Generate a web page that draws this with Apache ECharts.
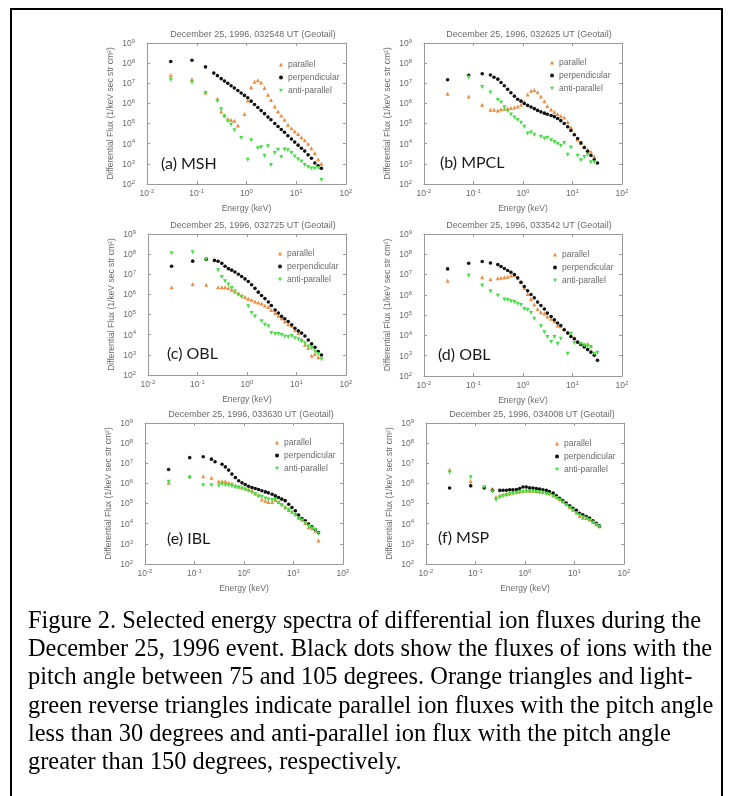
<!DOCTYPE html>
<html>
<head>
<meta charset="utf-8">
<script src="https://cdn.jsdelivr.net/npm/echarts@6/dist/echarts.min.js"></script>
<style>
html,body{margin:0;padding:0;background:#fff;}
#chart{width:731px;height:796px;}
</style>
</head>
<body>
<div id="chart"></div>
<script>
// ---------- data ----------
const energy = [0.03, 0.08, 0.15, 0.22, 0.26, 0.31, 0.36, 0.42, 0.49, 0.57, 0.67, 0.78, 0.91, 1.06, 1.24, 1.45, 1.69, 1.97, 2.3, 2.7, 3.1, 3.7, 4.3, 5.0, 5.8, 6.8, 8.0, 9.3, 10.9, 12.7, 14.8, 17.3, 20.2, 23.6, 27.5, 32];

const seriesNames = ['parallel', 'perpendicular', 'anti-parallel'];

// (a) MSH
const aPar  = [2.5e7, 1.6e7, 3.5e6, null, 1.7e6, 4.0e5, 2.5e5, 1.7e5, 1.5e5, 1.4e5, 8.0e4, null, 3.0e5, 1.4e6, 6.3e6, 1.2e7, 1.4e7, 1.1e7, 5.9e6, 2.7e6, 1.5e6, 7.0e5, 4.0e5, 2.5e5, 1.55e5, 8.7e4, 5.8e4, 4.1e4, 3.0e4, 2.1e4, 1.5e4, 1.0e4, 6.0e3, 3.5e3, 1.7e3, 1.0e3];
const aPerp = [1.2e8, 1.4e8, 6.5e7, 3.2e7, 2.4e7, 1.7e7, 1.3e7, 1.0e7, 7.6e6, 5.8e6, 4.4e6, 3.3e6, 2.5e6, 1.9e6, 1.3e6, 8.9e5, 6.3e5, 4.4e5, 3.1e5, 2.1e5, 1.55e5, 1.0e5, 7.2e4, 5.1e4, 3.7e4, 2.5e4, 1.7e4, 1.2e4, 8.5e3, 6.0e3, 4.3e3, 2.8e3, 1.9e3, 1.1e3, 8.0e2, 6.0e2];
const aAnti = [1.5e7, 1.1e7, 3.3e6, null, 1.3e6, 5.2e5, 2.3e5, 1.3e5, 8.7e4, 4.6e4, null, 1.9e4, null, 1.6e3, 1.5e4, null, 6.0e3, 6.6e3, 2.5e3, 7.4e3, 8.7e2, 3.5e3, 5.0e3, 2.2e3, 5.2e3, 4.7e3, 3.5e3, 2.3e3, 1.7e3, 1.3e3, 8.9e2, 7.0e2, 5.9e2, 5.9e2, 6.3e2, 1.6e2];

// (b) MPCL
const bPar  = [3.0e6, 2.2e6, 8.5e5, 4.8e5, 4.8e5, 4.4e5, 5.2e5, 5.5e5, 5.8e5, 6.0e5, 6.2e5, 7.0e5, 8.5e5, 1.2e6, 2.8e6, 4.2e6, 4.6e6, 3.6e6, 2.2e6, 1.3e6, 7.5e5, 5.0e5, 3.8e5, 3.0e5, 2.4e5, 2.0e5, 1.2e5, 6.5e4, 3.0e4, 1.6e4, 1.1e4, 7.0e3, 5.0e3, 4.0e3, 2.4e3, null];
const bPerp = [1.5e7, 2.5e7, 3.0e7, 2.6e7, 2.0e7, 1.6e7, 1.1e7, 7.5e6, 5.0e6, 3.4e6, 2.3e6, 1.6e6, 1.3e6, 1.0e6, 8.0e5, 6.6e5, 5.5e5, 4.5e5, 3.8e5, 3.3e5, 2.9e5, 2.5e5, 2.2e5, 1.8e5, 1.4e5, 1.0e5, 7.0e4, 4.5e4, 2.8e4, 1.8e4, 1.1e4, 6.5e3, 4.2e3, 2.6e3, 1.6e3, 1.1e3];
const bAnti = [null, 2.0e7, 6.5e6, 3.5e6, null, 1.5e6, 1.1e6, 6.5e5, 4.2e5, 2.8e5, 2.0e5, 1.5e5, 1.1e5, 7.0e4, 3.2e4, 3.6e4, 2.8e4, null, 2.2e4, 1.8e4, 2.0e4, 1.5e4, 1.2e4, 1.0e4, 8.0e3, 1.1e4, 2.8e3, 6.5e3, null, 2.5e3, 1.5e3, 2.2e3, 2.8e3, 1.2e3, 1.2e3, null];

// (c) OBL
const cPar  = [2.3e6, 3.3e6, 3.0e6, null, 2.3e6, 2.3e6, 2.3e6, 2.1e6, 1.7e6, 1.4e6, 1.1e6, 9.0e5, 7.4e5, 6.1e5, 5.5e5, 4.5e5, 4.0e5, 3.5e5, 2.8e5, 2.4e5, 1.7e5, 1.2e5, 8.7e4, 6.6e4, 4.5e4, 3.3e4, 2.8e4, 1.7e4, 1.2e4, 6.0e3, 3.2e3, 2.2e3, 9.0e2, 1.1e3, 7.5e2, null];
const cPerp = [2.5e7, 4.5e7, 5.5e7, 4.9e7, 4.4e7, 3.5e7, 2.5e7, 1.9e7, 1.6e7, 1.3e7, 1.0e7, 7.7e6, 5.9e6, 4.4e6, 3.0e6, 2.0e6, 1.3e6, 8.9e5, 6.2e5, 4.2e5, 2.8e5, 1.7e5, 1.2e5, 8.1e4, 6.2e4, 4.5e4, 3.1e4, 2.1e4, 1.55e4, 1.2e4, 8.7e3, 5.5e3, 3.5e3, 2.4e3, 1.45e3, 9.8e2];
const cAnti = [1.1e8, 1.25e8, 5.5e7, null, 1.6e7, 7.4e6, 4.5e6, 3.1e6, 2.1e6, 1.4e6, 9.7e5, 7.4e5, null, 2.6e5, 1.2e5, 8.0e4, null, 4.6e4, 3.1e4, 2.6e4, 1.2e4, 1.1e4, 1.1e4, 9.8e3, 8.1e3, 7.6e3, 8.7e3, 6.6e3, 6.0e3, 4.6e3, 3.8e3, 2.6e3, 2.1e3, 1.45e3, 1.1e3, 6.0e2];

// (d) OBL
const dPar  = [5.0e6, null, 7.4e6, 5.9e6, null, 6.6e6, 6.9e6, 7.4e6, 7.9e6, 9.0e6, 9.4e6, 6.9e6, 4.2e6, 2.2e6, 1.1e6, 6.3e5, 3.3e5, 2.0e5, 1.4e5, 1.2e5, 8.6e4, 6.6e4, 5.0e4, 3.1e4, 2.8e4, 2.1e4, 1.45e4, 1.0e4, 7.4e3, 4.7e3, 3.9e3, 3.6e3, 3.9e3, 2.9e3, null, null];
const dPerp = [1.9e7, 3.6e7, 4.4e7, 3.7e7, null, 3.1e7, 2.5e7, 2.0e7, 1.6e7, 1.3e7, 1.0e7, 6.9e6, 4.2e6, 2.6e6, 1.6e6, 1.05e6, 7.1e5, 4.4e5, 3.0e5, 2.0e5, 1.26e5, 8.6e4, 5.9e4, 4.1e4, 3.1e4, 1.9e4, 1.3e4, 8.9e3, 6.9e3, 4.7e3, 3.6e3, 2.7e3, 2.0e3, 1.5e3, 1.05e3, 5.9e2];
const dAnti = [null, 9.0e6, 2.9e6, 1.5e6, null, 9.3e5, null, 5.9e5, 5.6e5, 4.9e5, 4.4e5, 3.6e5, 3.2e5, 2.0e5, 1.8e5, 1.26e5, 6.6e4, null, 2.8e4, 1.45e4, 8.3e3, 4.7e3, 8.3e3, 3.9e3, 6.9e3, null, 1.26e3, 1.2e4, 4.2e3, null, 3.9e3, 3.2e3, 2.9e3, 2.7e3, 1.26e3, 1.4e3];

// (e) IBL
const ePar  = [1.07e6, 2.3e6, 2.3e6, 1.9e6, null, 1.3e6, 1.3e6, 1.3e6, 1.07e6, 1.0e6, 8.0e5, 6.8e5, 6.3e5, 5.6e5, 5.0e5, 4.6e5, 3.2e5, 2.6e5, 1.6e5, 1.4e5, 1.2e5, 1.2e5, 1.5e5, 1.2e5, 9.3e4, 6.9e4, 4.8e4, 3.9e4, 3.0e4, 2.0e4, 1.6e4, 1.1e4, 6.6e3, 5.9e3, 4.5e3, 1.45e3];
const ePerp = [4.9e6, 1.9e7, 2.1e7, 1.6e7, 1.2e7, null, 9.0e6, 6.6e6, 4.6e6, 2.9e6, 1.95e6, 1.35e6, 1.07e6, 8.9e5, 7.3e5, 6.3e5, 5.6e5, 5.0e5, 4.3e5, 3.8e5, 3.4e5, 2.9e5, 2.4e5, 2.0e5, 1.66e5, 1.4e5, 9.3e4, 6.4e4, 4.4e4, 2.7e4, 1.8e4, 1.4e4, 9.6e3, 7.1e3, 5.2e3, 3.6e3];
const eAnti = [1.2e6, 1.9e6, 8.1e5, 8.1e5, null, 8.0e5, 9.1e5, 8.1e5, 8.1e5, 7.2e5, 6.3e5, 6.3e5, 5.6e5, 5.0e5, 4.3e5, 3.4e5, 2.9e5, 2.3e5, 2.2e5, 1.8e5, 1.6e5, 1.5e5, 1.5e5, 1.1e5, 8.3e4, 5.7e4, 4.8e4, 3.5e4, 2.7e4, 1.8e4, 1.5e4, 1.1e4, 7.6e3, 5.9e3, 4.9e3, 3.3e3];

// (f) MSP
const fPar  = [4.8e6, 1.3e6, 7.0e5, 5.5e5, 2.2e5, 2.5e5, 2.8e5, 3.0e5, 3.2e5, 3.5e5, 3.8e5, 4.0e5, 4.2e5, 4.4e5, 4.3e5, 4.3e5, 4.2e5, 4.0e5, 3.8e5, 3.6e5, 3.3e5, 2.6e5, 2.2e5, 1.7e5, 1.3e5, 9.5e4, 7.0e4, 5.0e4, 3.6e4, 2.4e4, 2.0e4, 1.9e4, 1.6e4, 1.2e4, 9.5e3, 7.5e3];
const fPerp = [5.9e5, 7.6e5, 5.9e5, 4.5e5, null, 4.5e5, 4.6e5, 4.6e5, 4.8e5, 4.8e5, 4.9e5, 5.6e5, 6.6e5, 6.6e5, 6.0e5, 5.9e5, 5.6e5, 5.2e5, 4.8e5, 4.5e5, 4.0e5, 3.3e5, 2.4e5, 1.85e5, 1.4e5, 1.05e5, 7.8e4, 5.9e4, 4.6e4, 3.3e4, 2.8e4, 2.3e4, 1.9e4, 1.4e4, 1.05e4, 7.8e3];
const fAnti = [3.5e6, 2.0e6, 6.5e5, 4.0e5, 1.5e5, 2.0e5, 2.3e5, 2.6e5, 2.9e5, 3.1e5, 3.4e5, 3.6e5, 3.8e5, 4.0e5, 4.0e5, 3.9e5, 3.8e5, 3.6e5, 3.4e5, 3.1e5, 2.8e5, 2.3e5, 1.9e5, 1.5e5, 1.15e5, 8.5e4, 6.2e4, 4.6e4, 3.3e4, 2.6e4, 2.1e4, 1.8e4, 1.5e4, 1.15e4, 9.0e3, 7.0e3];

const panelTitles = [
  'December 25, 1996, 032548 UT (Geotail)',
  'December 25, 1996, 032625 UT (Geotail)',
  'December 25, 1996, 032725 UT (Geotail)',
  'December 25, 1996, 033542 UT (Geotail)',
  'December 25, 1996, 033630 UT (Geotail)',
  'December 25, 1996, 034008 UT (Geotail)'
];
const panelLabels = ['(a) MSH', '(b) MPCL', '(c) OBL', '(d) OBL', '(e) IBL', '(f) MSP'];
const xAxisName = 'Energy (keV)';
const yAxisName = 'Differential Flux (1/keV sec str cm\u00B2)';
const xTickExps = [-2, -1, 0, 1, 2];
const yTickExps = [2, 3, 4, 5, 6, 7, 8, 9];
const captionLines = [
  'Figure 2. Selected energy spectra of differential ion fluxes during the',
  'December 25, 1996 event. Black dots show the fluxes of ions with the',
  'pitch angle between 75 and 105 degrees. Orange triangles and light-',
  'green reverse triangles indicate parallel ion fluxes with the pitch angle',
  'less than 30 degrees and anti-parallel ion flux with the pitch angle',
  'greater than 150 degrees, respectively.'
];

const panelData = [
  [aPar, aPerp, aAnti],
  [bPar, bPerp, bAnti],
  [cPar, cPerp, cAnti],
  [dPar, dPerp, dAnti],
  [ePar, ePerp, eAnti],
  [fPar, fPerp, fAnti]
];

// ---------- layout & style ----------
const layout = [
  {grid: [147, 43, 199, 141], title: [253, 35], label: [161, 164], legend: [279, 60]},
  {grid: [424, 43, 198, 141], title: [529, 35], label: [440, 163], legend: [550, 58]},
  {grid: [148, 234, 198, 141], title: [253, 226], label: [167, 354], legend: [278, 249]},
  {grid: [424, 234, 198, 142], title: [529, 226], label: [438, 355], legend: [553, 250]},
  {grid: [145, 423, 198, 141], title: [251, 415], label: [167, 539], legend: [275, 438]},
  {grid: [426, 423, 198, 141], title: [532, 415], label: [438, 538], legend: [555, 439]}
];
const SANS = '"Liberation Sans", Arial, sans-serif';
const axisColor = '#9a9a9a';
const textColor = '#6a6a6a';
const colors = ['#f08a3c', '#111111', '#40e040'];
const downTri = 'path://M0,0 L10,0 L5,9 Z';
const symbols = ['triangle', 'circle', downTri];
const symbolSizes = [4, 3.6, 4];

const supRich = {
  b: {fontSize: 8.5, color: textColor, fontFamily: SANS, lineHeight: 9, verticalAlign: 'bottom'},
  s: {fontSize: 6, color: textColor, fontFamily: SANS, verticalAlign: 'top', padding: [0, 0, 4, 0]}
};
function expFmt(allowed) {
  return function (v) {
    const e = Math.round(Math.log10(v));
    if (allowed.indexOf(e) < 0) return '';
    return '{b|10}{s|' + e + '}';
  };
}
function points(vals) {
  const out = [];
  vals.forEach(function (v, k) { if (v != null) out.push([energy[k], v]); });
  return out;
}

const grids = [], xAxes = [], yAxes = [], series = [], legends = [], graphics = [];
layout.forEach(function (L, i) {
  grids.push({left: L.grid[0], top: L.grid[1], width: L.grid[2], height: L.grid[3], show: false});
  const common = {
    type: 'log', logBase: 10, gridIndex: i,
    axisLine: {show: true, onZero: false, lineStyle: {color: axisColor, width: 1}},
    axisTick: {show: true, inside: true, length: 3, lineStyle: {color: axisColor}},
    minorTick: {show: false}, splitLine: {show: false}, minorSplitLine: {show: false}
  };
  xAxes.push(Object.assign({}, common, {
    min: 0.01, max: 100, position: 'bottom',
    axisLabel: {show: true, interval: 0, margin: 4, formatter: expFmt(xTickExps), rich: supRich, color: textColor},
    name: xAxisName, nameLocation: 'middle', nameGap: 20,
    nameTextStyle: {fontSize: 8.5, color: textColor, fontFamily: SANS}
  }));
  xAxes.push(Object.assign({}, common, {
    min: 0.01, max: 100, position: 'top', axisLabel: {show: false}
  }));
  yAxes.push(Object.assign({}, common, {
    min: 100, max: 1e9, position: 'left',
    axisLabel: {show: true, interval: 0, margin: 12, formatter: expFmt(yTickExps), rich: supRich, color: textColor},
    name: yAxisName, nameLocation: 'middle', nameGap: 32,
    nameTextStyle: {fontSize: 8.5, color: textColor, fontFamily: SANS}
  }));
  yAxes.push(Object.assign({}, common, {
    min: 100, max: 1e9, position: 'right', axisLabel: {show: false}
  }));
  panelData[i].forEach(function (vals, s) {
    series.push({
      type: 'scatter', name: seriesNames[s],
      xAxisIndex: 2 * i, yAxisIndex: 2 * i,
      data: points(vals),
      symbol: symbols[s], symbolSize: symbolSizes[s],
      itemStyle: {color: colors[s], opacity: 1},
      emphasis: {disabled: true}
    });
  });
  legends.push({
    orient: 'vertical', left: L.legend[0], top: L.legend[1], padding: 0,
    itemWidth: 4, itemHeight: 4, itemGap: 4,
    selectedMode: false,
    data: [
      {name: seriesNames[0], icon: 'triangle'},
      {name: seriesNames[1], icon: 'circle'},
      {name: seriesNames[2], icon: downTri}
    ],
    textStyle: {fontSize: 8.5, color: textColor, fontFamily: SANS}
  });
  graphics.push({
    type: 'text', silent: true,
    style: {x: L.title[0], y: L.title[1], text: panelTitles[i], align: 'center', verticalAlign: 'middle',
      fontSize: 9, fontFamily: SANS, fill: textColor}
  });
  graphics.push({
    type: 'text', silent: true,
    style: {x: L.label[0], y: L.label[1], text: panelLabels[i], align: 'left', verticalAlign: 'middle',
      fontSize: 16, fontFamily: 'Lato, "Open Sans", sans-serif', fill: '#1a1a1a'}
  });
});

const capTop = 621.5, capStep = 28.2;
captionLines.forEach(function (line, k) {
  graphics.push({
    type: 'text', silent: true,
    style: {x: 28, y: capTop + k * capStep, text: line, align: 'left', verticalAlign: 'middle',
      fontSize: 24.4, fontFamily: '"Liberation Serif", "Times New Roman", serif', fill: '#000'}
  });
});
graphics.push({
  type: 'rect', silent: true,
  shape: {x: 11, y: 9, width: 711, height: 800},
  style: {fill: null, stroke: '#000', lineWidth: 2}
});

const chart = echarts.init(document.getElementById('chart'), null, {renderer: 'canvas'});
chart.setOption({
  animation: false,
  backgroundColor: '#fff',
  grid: grids,
  xAxis: xAxes,
  yAxis: yAxes,
  legend: legends,
  series: series,
  graphic: graphics
});
</script>
</body>
</html>
